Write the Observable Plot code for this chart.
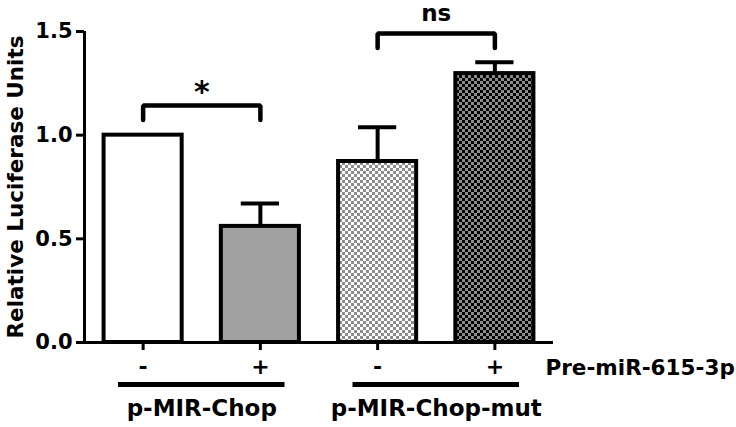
<!DOCTYPE html>
<html><head><meta charset="utf-8">
<script src="https://cdn.jsdelivr.net/npm/d3@7"></script>
<script src="https://cdn.jsdelivr.net/npm/@observablehq/plot@0.6"></script>
<style>
body{margin:0;background:#fff;}
#chart svg g[aria-label^="y-axis"] line, #chart svg g[aria-label^="x-axis"] line,
#chart svg g[aria-label^="y-axis"] path, #chart svg g[aria-label^="x-axis"] path {stroke-width:3px;}
#chart svg g[aria-label^="y-axis"] text {font-size:21px;}
</style></head><body><div id="chart"></div>
<script>
// ---- data ----
const treatments = ["-", "+", "-", "+"];
const means = [1.0, 0.56, 0.873, 1.297];
const errors = [0, 0.11, 0.165, 0.055];
const groupNames = ["p-MIR-Chop", "p-MIR-Chop-mut"];
const groupFrom = [0, 2];
const groupTo = [1, 3];
const sigLabels = ["*", "ns"];
const sigFrom = [0, 2];
const sigTo = [1, 3];
const sigHeights = [1.143, 1.49];
const treatmentLabel = "Pre-miR-615-3p";
const yLabel = "Relative Luciferase Units";
const yTicks = [0, 0.5, 1.0, 1.5];

// ---- styles ----
const barFills = ["white", "#a0a0a0", "url(#checkLight)", "url(#checkDark)"];
const sigFontSizes = [30, 23];
const sigDy = [-4, -13];
const BAR_HALF = 0.333, CAP_HALF = 0.163, GROUP_EXT = 0.21, LEG = 0.07;
const xDomain = [-0.5, treatments.length - 0.5];
const yDomain = [0, 1.5];

const bars = means.map((m, i) => ({i, mean: m, err: errors[i], fill: barFills[i]}));
const withErr = bars.filter(d => d.err > 0);
const groups = groupNames.map((name, k) => ({name, from: groupFrom[k], to: groupTo[k]}));
const sigs = sigLabels.map((label, k) => ({label, from: sigFrom[k], to: sigTo[k], h: sigHeights[k]}));
const bracketPts = sigs.flatMap((s, k) => [
  {k, x: s.from, y: s.h - LEG}, {k, x: s.from, y: s.h}, {k, x: s.to, y: s.h}, {k, x: s.to, y: s.h - LEG}
]);

const plot = Plot.plot({
  width: 736, height: 427,
  marginLeft: 84, marginRight: 183, marginTop: 31, marginBottom: 85,
  style: {fontFamily: "'DejaVu Sans', sans-serif", fontSize: "22px", fontWeight: "bold", background: "white", color: "black", overflow: "visible"},
  color: {type: "identity"},
  x: {domain: xDomain, ticks: bars.map(d => d.i), tickFormat: i => treatments[i], tickSize: 8, tickPadding: 8, label: null},
  y: {domain: yDomain, ticks: yTicks, tickFormat: ".1f", tickSize: 8, tickPadding: 4, label: null},
  marks: [
    Plot.ruleX(withErr, {x: "i", y1: "mean", y2: d => d.mean + d.err, strokeWidth: 4}),
    Plot.ruleY(withErr, {y: d => d.mean + d.err, x1: d => d.i - CAP_HALF, x2: d => d.i + CAP_HALF, strokeWidth: 4}),
    Plot.rectY(bars, {x1: d => d.i - BAR_HALF, x2: d => d.i + BAR_HALF, y1: 0, y2: "mean", fill: "fill", stroke: "black", strokeWidth: 4}),
    Plot.ruleX([xDomain[0]], {y1: yDomain[0], y2: yDomain[1], strokeWidth: 3}),
    Plot.ruleY([0], {x1: xDomain[0], x2: xDomain[1], strokeWidth: 3}),
    Plot.line(bracketPts, {x: "x", y: "y", z: "k", strokeWidth: 4.5, strokeLinejoin: "miter"}),
    ...sigs.map((s, k) => Plot.text([s], {x: d => (d.from + d.to) / 2, y: "h", text: "label", dy: sigDy[k], lineAnchor: "bottom", fontSize: sigFontSizes[k], fontWeight: "bold"})),
    Plot.ruleY(groups, {y: () => 0, x1: d => d.from - GROUP_EXT, x2: d => d.to + GROUP_EXT, dy: 42, strokeWidth: 5}),
    Plot.text(groups, {x: d => (d.from + d.to) / 2, y: () => 0, text: "name", dy: 66, lineAnchor: "middle", fontSize: 23, fontWeight: "bold"}),
    Plot.text([treatmentLabel], {frameAnchor: "bottom-right", text: d => d, textAnchor: "start", dx: -8, dy: 26, lineAnchor: "middle", fontSize: 21.5, fontWeight: "bold"}),
    Plot.text([yLabel], {frameAnchor: "left", text: d => d, rotate: -90, dx: -68, textAnchor: "middle", lineAnchor: "middle", fontSize: 21.5, fontWeight: "bold"})
  ]
});

const defs = d3.select(plot).insert("defs", ":first-child");
function checker(id, base, sq) {
  const p = defs.append("pattern").attr("id", id).attr("width", 6).attr("height", 6).attr("patternUnits", "userSpaceOnUse");
  p.append("rect").attr("width", 6).attr("height", 6).attr("fill", base);
  p.append("rect").attr("width", 3).attr("height", 3).attr("fill", sq);
  p.append("rect").attr("x", 3).attr("y", 3).attr("width", 3).attr("height", 3).attr("fill", sq);
}
checker("checkLight", "white", "#8c8c8c");
checker("checkDark", "#8c8c8c", "black");

document.getElementById("chart").appendChild(plot);
</script></body></html>
